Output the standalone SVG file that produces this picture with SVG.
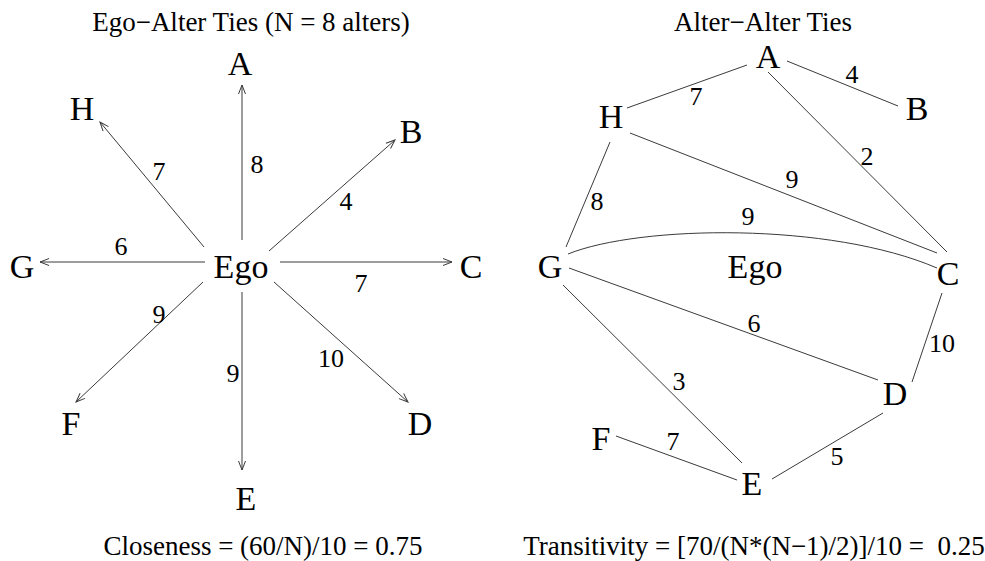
<svg xmlns="http://www.w3.org/2000/svg" width="985" height="561" viewBox="0 0 985 561">
<style>
text{font-family:"Liberation Serif","Times New Roman",serif;fill:#000;text-anchor:middle}
.t{font-size:27px;white-space:pre}
.n{font-size:34px}
.w{font-size:26px}
.e{stroke:#3a3a3a;stroke-width:1;fill:none}
</style>
<defs>
<marker id="arr" viewBox="-11 -6 13 12" refX="0" refY="0" markerWidth="13" markerHeight="12" markerUnits="userSpaceOnUse" orient="auto">
<path d="M-9,-3.5 L0,0 L-9,3.5" fill="none" stroke="#3a3a3a" stroke-width="1"/>
</marker>
</defs>
<rect width="985" height="561" fill="#fff"/>
<g id="titles">
<text class="t" x="251" y="31">Ego−Alter Ties (N = 8 alters)</text>
<text class="t" x="763" y="31">Alter−Alter Ties</text>
<text class="t" x="263" y="555">Closeness = (60/N)/10 = 0.75</text>
<text class="t" x="754" y="555">Transitivity = [70/(N*(N−1)/2)]/10 =  0.25</text>
</g>
<g id="connectors">
<g id="ego-alter">
<line class="e" x1="242" y1="240" x2="242" y2="85" marker-end="url(#arr)"/>
<line class="e" x1="204" y1="247" x2="100" y2="122" marker-end="url(#arr)"/>
<line class="e" x1="269" y1="251" x2="395" y2="140" marker-end="url(#arr)"/>
<line class="e" x1="205" y1="262" x2="40" y2="262" marker-end="url(#arr)"/>
<line class="e" x1="280" y1="262" x2="452" y2="262" marker-end="url(#arr)"/>
<line class="e" x1="203" y1="282" x2="76" y2="402" marker-end="url(#arr)"/>
<line class="e" x1="242" y1="292" x2="242" y2="470" marker-end="url(#arr)"/>
<line class="e" x1="274" y1="282" x2="408" y2="402" marker-end="url(#arr)"/>
</g>
<g id="alter-alter">
<line class="e" x1="627" y1="108" x2="747" y2="65"/>
<line class="e" x1="787" y1="61" x2="898" y2="106"/>
<line class="e" x1="768" y1="72" x2="947" y2="252"/>
<line class="e" x1="630" y1="133" x2="937" y2="253"/>
<line class="e" x1="610" y1="142" x2="566" y2="247"/>
<path class="e" d="M568,254 C640,225 830,222 937,268"/>
<line class="e" x1="569" y1="268" x2="878" y2="380"/>
<line class="e" x1="563" y1="285" x2="742" y2="463"/>
<line class="e" x1="942" y1="293" x2="912" y2="382"/>
<line class="e" x1="883" y1="413" x2="772" y2="479"/>
<line class="e" x1="616" y1="436" x2="737" y2="480"/>
</g>
</g>
<g id="edge-labels">
<text class="w" x="257" y="173">8</text>
<text class="w" x="159" y="180">7</text>
<text class="w" x="346" y="210">4</text>
<text class="w" x="121" y="255">6</text>
<text class="w" x="361" y="292">7</text>
<text class="w" x="159" y="323">9</text>
<text class="w" x="233" y="382">9</text>
<text class="w" x="331" y="367">10</text>
<text class="w" x="696" y="105">7</text>
<text class="w" x="852" y="83">4</text>
<text class="w" x="867" y="165">2</text>
<text class="w" x="792" y="188">9</text>
<text class="w" x="748" y="225">9</text>
<text class="w" x="597" y="210">8</text>
<text class="w" x="754" y="332">6</text>
<text class="w" x="942" y="352">10</text>
<text class="w" x="679" y="390">3</text>
<text class="w" x="673" y="450">7</text>
<text class="w" x="837" y="465">5</text>
</g>
<g id="left-nodes">
<g id="L-A"><text class="n" x="240" y="75">A</text></g>
<g id="L-H"><text class="n" x="82" y="120">H</text></g>
<g id="L-B"><text class="n" x="411" y="143">B</text></g>
<g id="L-G"><text class="n" x="22" y="278">G</text></g>
<g id="L-Ego"><text class="n" x="241" y="278">Ego</text></g>
<g id="L-C"><text class="n" x="471" y="278">C</text></g>
<g id="L-F"><text class="n" x="71" y="435">F</text></g>
<g id="L-D"><text class="n" x="420" y="435">D</text></g>
<g id="L-E"><text class="n" x="246" y="510">E</text></g>
</g>
<g id="right-nodes">
<g id="R-A"><text class="n" x="768" y="68">A</text></g>
<g id="R-B"><text class="n" x="917" y="120">B</text></g>
<g id="R-H"><text class="n" x="611" y="128">H</text></g>
<g id="R-G"><text class="n" x="550" y="278">G</text></g>
<g id="R-Ego"><text class="n" x="755" y="278">Ego</text></g>
<g id="R-C"><text class="n" x="948" y="285">C</text></g>
<g id="R-D"><text class="n" x="895" y="405">D</text></g>
<g id="R-F"><text class="n" x="601" y="450">F</text></g>
<g id="R-E"><text class="n" x="752" y="495">E</text></g>
</g>
</svg>
